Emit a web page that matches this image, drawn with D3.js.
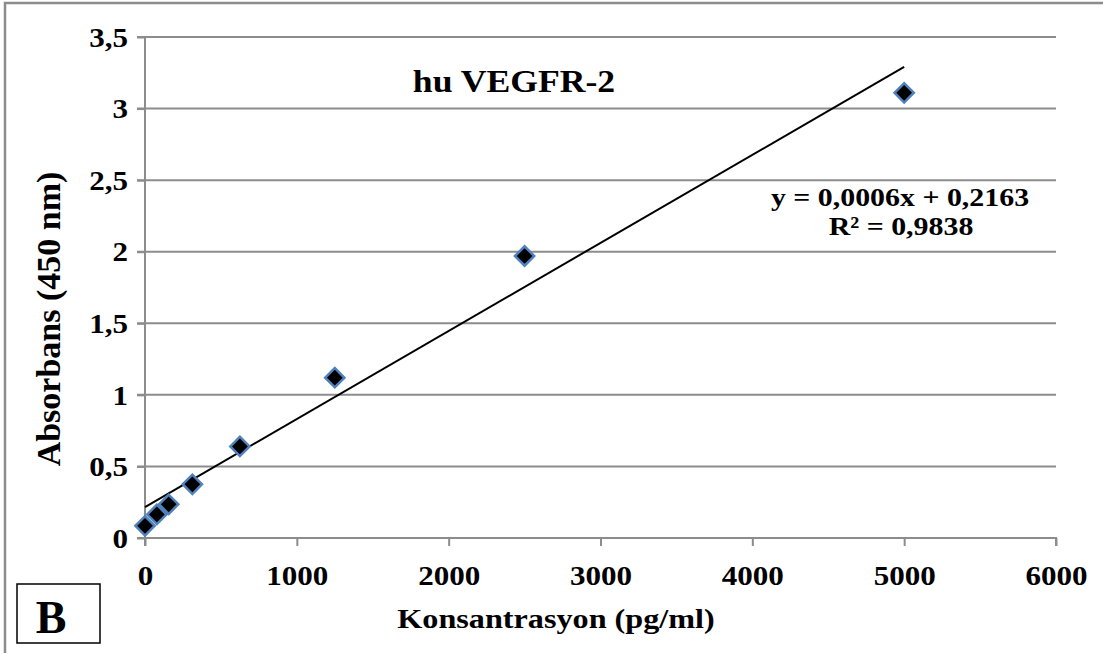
<!DOCTYPE html>
<html>
<head>
<meta charset="utf-8">
<script src="https://cdn.jsdelivr.net/npm/d3@7"></script>
<style>
  body { margin: 0; background: #fff; }
  text { font-family: "Liberation Serif", "Times New Roman", serif; font-weight: bold; fill: #000; }
</style>
</head>
<body>
<svg id="chart" width="1103" height="653"></svg>
<script>
// data
var concentrations = [0, 78, 156, 312, 625, 1250, 2500, 5000];
var absorbances = [0.085, 0.165, 0.235, 0.375, 0.64, 1.12, 1.97, 3.11];
var xTicks = [0, 1000, 2000, 3000, 4000, 5000, 6000];
var yTicks = [0, 0.5, 1, 1.5, 2, 2.5, 3, 3.5];
var trendSlope = 0.000615, trendIntercept = 0.2163;
var trendRange = [0, 5000];
var eqLines = ["y = 0,0006x + 0,2163", "R\u00b2 = 0,9838"];

var sx = 1.15; // glyphs in the picture are a bit wide
var gridColor = "#8c8c8c";

var svg = d3.select("#chart");

// outer frame (only top and left edge visible)
svg.append("rect")
    .attr("x", 5).attr("y", 3)
    .attr("width", 1200).attr("height", 700)
    .attr("fill", "none")
    .attr("stroke", gridColor)
    .attr("stroke-width", 2.5);

var x = d3.scaleLinear().domain([0, 6000]).range([145, 1056]),
    y = d3.scaleLinear().domain([0, 3.5]).range([538, 37]);

// horizontal gridlines
svg.append("g").selectAll("line")
  .data(yTicks)
  .enter().append("line")
    .attr("x1", 137).attr("x2", x(6000))
    .attr("y1", function(d) { return y(d); })
    .attr("y2", function(d) { return y(d); })
    .attr("stroke", gridColor)
    .attr("stroke-width", 2);

var comma = function(d) { return String(d).replace(".", ","); };

var yAxis = svg.append("g")
    .attr("transform", "translate(" + x(0) + ",0)")
    .call(d3.axisLeft(y).tickValues(yTicks).tickSize(8).tickPadding(6).tickFormat(comma));

var xAxis = svg.append("g")
    .attr("transform", "translate(0," + y(0) + ")")
    .call(d3.axisBottom(x).tickValues(xTicks).tickSize(8).tickFormat(d3.format("d")));

[yAxis, xAxis].forEach(function(a) {
  a.select(".domain").attr("stroke", gridColor).attr("stroke-width", 2);
  a.selectAll(".tick line").attr("stroke", gridColor).attr("stroke-width", 2);
  a.selectAll("text")
      .style("font-family", "'Liberation Serif', 'Times New Roman', serif")
      .style("font-weight", "bold")
      .style("font-size", "27px")
      .attr("fill", "#000");
});
yAxis.selectAll(".tick text").attr("x", -17 / sx).attr("dy", "0.34em").attr("transform", "scale(" + sx + ",1)");
xAxis.selectAll(".tick text").attr("y", 0).attr("dy", 47).attr("transform", "scale(" + sx + ",1)");
// keep vertical domain reaching the x tick level
yAxis.select(".domain").attr("d", "M0," + y(3.5) + "V" + (y(0) + 8));
xAxis.select(".domain").attr("d", "M137,0H" + x(6000) + "V8");

// trendline
var trend = d3.line()
    .x(function(d) { return x(d); })
    .y(function(d) { return y(trendSlope * d + trendIntercept); });
svg.append("path")
    .datum(trendRange)
    .attr("d", trend)
    .attr("fill", "none")
    .attr("stroke", "#000")
    .attr("stroke-width", 2);

// markers
var diamond = d3.symbol().type(d3.symbolSquare).size(185);
svg.append("g").selectAll("path")
  .data(concentrations)
  .enter().append("path")
    .attr("d", diamond)
    .attr("transform", function(d, i) {
      return "translate(" + x(d) + "," + y(absorbances[i]) + ") rotate(45)"; })
    .attr("fill", "#000")
    .attr("stroke", "#4f81bd")
    .attr("stroke-width", 2.5);

function label(txt, px, py, size) {
  return svg.append("text")
      .attr("transform", "translate(" + px + "," + py + ") scale(" + sx + ",1)")
      .attr("text-anchor", "middle")
      .style("font-size", size + "px")
      .text(txt);
}

label("hu VEGFR-2", 514, 92, 31);
label(eqLines[0], 900, 206, 26);
label(eqLines[1], 901, 235, 26);
label("Konsantrasyon (pg/ml)", 556, 628, 28);

svg.append("text")
    .attr("transform", "translate(60,319) rotate(-90)")
    .attr("text-anchor", "middle")
    .style("font-size", "34px")
    .text("Absorbans (450 nm)");

// panel letter
svg.append("rect")
    .attr("x", 17).attr("y", 584)
    .attr("width", 83).attr("height", 59)
    .attr("fill", "#fff")
    .attr("stroke", "#000")
    .attr("stroke-width", 1.5);
svg.append("text")
    .attr("x", 51).attr("y", 633)
    .attr("text-anchor", "middle")
    .style("font-size", "46px")
    .text("B");
</script>
</body>
</html>
